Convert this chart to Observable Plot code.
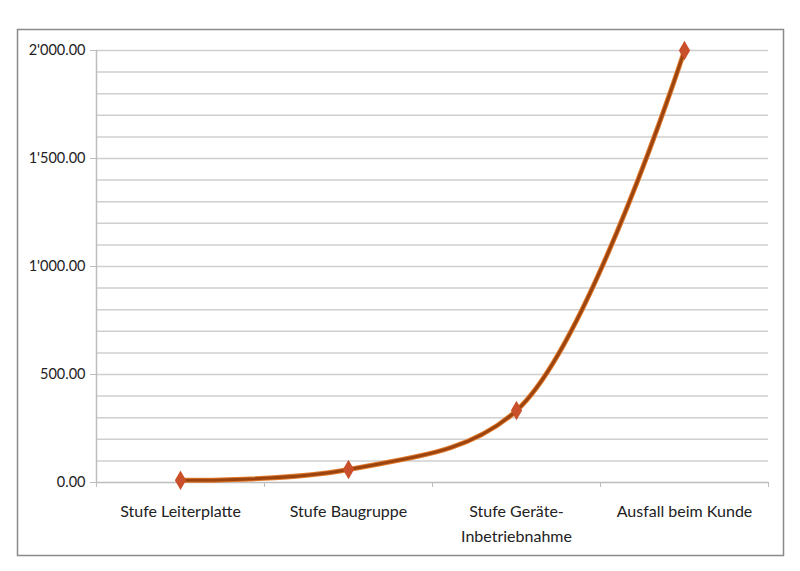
<!DOCTYPE html>
<html>
<head>
<meta charset="utf-8">
<script src="https://cdn.jsdelivr.net/npm/d3@7"></script>
<script src="https://cdn.jsdelivr.net/npm/@observablehq/plot@0.6"></script>
<style>
  html, body { margin: 0; padding: 0; background: #fff; }
  #chart { width: 800px; height: 571px; }
</style>
</head>
<body>
<div id="chart"></div>
<script>
const categories = ["Stufe Leiterplatte", "Stufe Baugruppe", "Stufe Geräte-\nInbetriebnahme", "Ausfall beim Kunde"];
const costs = [10, 60, 333, 2000];
const majorTicks = [0, 500, 1000, 1500, 2000];
const gridValues = d3.range(100, 2001, 100);

const data = categories.map((c, i) => ({pos: i + 0.5, cat: c, value: costs[i]}));
const fmt = d3.formatLocale({decimal: ".", thousands: "'", grouping: [3], currency: ["", ""]}).format(",.2f");

const font = "Lato, 'Open Sans', sans-serif";
const chart = Plot.plot({
  width: 800,
  height: 571,
  marginLeft: 96,
  marginRight: 32,
  marginTop: 50,
  marginBottom: 89,
  style: {fontFamily: font, fontSize: "15px", color: "#222", background: "#fff"},
  x: {type: "linear", domain: [0, categories.length]},
  y: {domain: [0, 2000]},
  marks: [
    Plot.frame({stroke: "#8a8a8a", strokeWidth: 1.5, insetTop: -21, insetLeft: -79, insetRight: -15, insetBottom: -73}),
    Plot.ruleY(gridValues, {stroke: "#cfcfcf", strokeWidth: 1.5, strokeOpacity: 1}),
    Plot.ruleY([0], {stroke: "#bdbdbd", strokeWidth: 1.5}),
    Plot.ruleX([0], {stroke: "#bdbdbd", strokeWidth: 1.5}),
    Plot.axisY(majorTicks, {tickSize: 6, tickPadding: 5, tickFormat: fmt, stroke: "#bdbdbd", fontSize: 14.5, fill: "#222", label: null}),
    Plot.axisX([0, 1, 2, 3, 4], {tickSize: 5, tickFormat: () => "", stroke: "#bdbdbd", label: null}),
    Plot.axisX(data.map(d => d.pos), {tickSize: 0, tickPadding: 17, tickFormat: p => categories[Math.round(p - 0.5)], fontSize: 16, fill: "#222", lineHeight: 1.55, label: null}),
    Plot.line(data, {x: "pos", y: "value", curve: "catmull-rom", stroke: "#e07a2c", strokeWidth: 5}),
    Plot.line(data, {x: "pos", y: "value", curve: "catmull-rom", stroke: "#9c4410", strokeWidth: 3}),
    Plot.dot(data, {x: "pos", y: "value", symbol: "diamond", r: 5, fill: "#c9502a", stroke: "#c9502a"})
  ]
});
document.getElementById("chart").appendChild(chart);
</script>
</body>
</html>
